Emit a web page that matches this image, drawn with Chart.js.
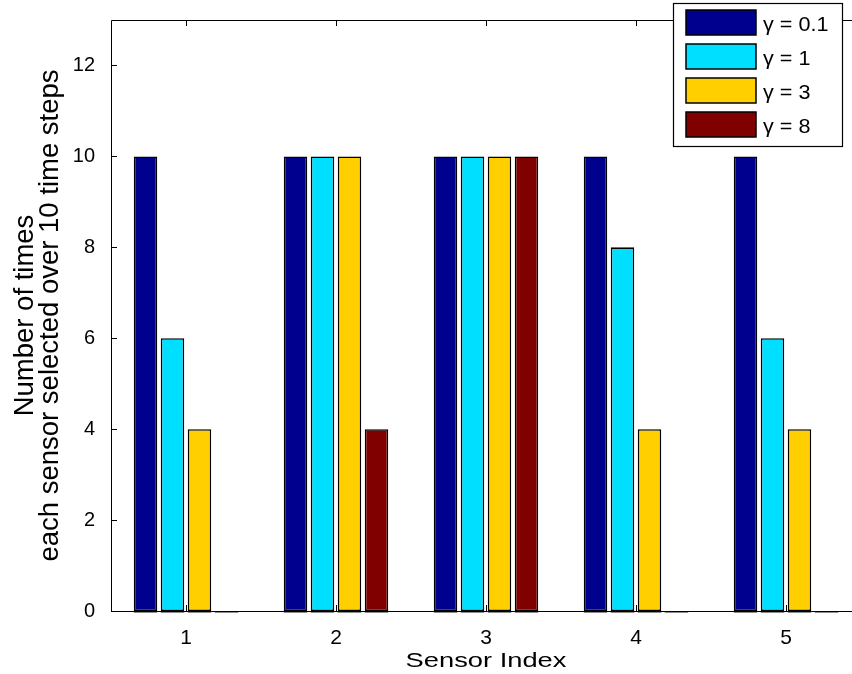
<!DOCTYPE html>
<html>
<head>
<meta charset="utf-8">
<script src="https://cdn.jsdelivr.net/npm/chart.js@4.4.0/dist/chart.umd.min.js"></script>
<style>
  html, body { margin: 0; padding: 0; background: #fff; overflow: hidden; }
  #wrap { width: 852px; height: 674px; overflow: hidden; }
</style>
</head>
<body>
<div id="wrap"><canvas id="myChart" width="866" height="674"></canvas></div>
<script>
// data
const sensors = ['1', '2', '3', '4', '5'];
const gammaLabels = ['\u03b3 = 0.1', '\u03b3 = 1', '\u03b3 = 3', '\u03b3 = 8'];
const gamma01 = [10, 10, 10, 10, 10];
const gamma1 = [6, 10, 10, 8, 6];
const gamma3 = [4, 10, 10, 4, 4];
const gamma8 = [0, 4, 10, 0, 0];
const yTicks = [0, 2, 4, 6, 8, 10, 12];
const xTitle = 'Sensor Index';
const yTitle = ['Number of times', 'each sensor selected over 10 time steps'];

const colors = ['#00008f', '#00dfff', '#ffcf00', '#800000'];
const FONT = '"Liberation Sans", Arial, Helvetica, sans-serif';

// matlab text comes out wider than arial, so stretch it sideways
function wideText(ctx, text, x, y, size, sx, align) {
  ctx.save();
  ctx.font = size + 'px ' + FONT;
  ctx.textAlign = align;
  ctx.textBaseline = 'alphabetic';
  ctx.translate(x, y);
  ctx.scale(sx, 1);
  ctx.fillText(text, 0, 0);
  ctx.restore();
}

// matlab style box (right side runs off the picture) + inward ticks
const framePlugin = {
  id: 'frame',
  afterDatasetsDraw(chart) {
    const {ctx, chartArea: a, scales} = chart;
    ctx.save();
    // gray base lines under every bar (matlab draws zero bars like this)
    ctx.strokeStyle = '#8c8c8c';
    ctx.lineWidth = 2;
    chart.data.datasets.forEach((ds, di) => {
      chart.getDatasetMeta(di).data.forEach(el => {
        ctx.beginPath();
        ctx.moveTo(el.x - el.width / 2, el.base + 1);
        ctx.lineTo(el.x + el.width / 2, el.base + 1);
        ctx.stroke();
      });
    });
    ctx.strokeStyle = '#000';
    ctx.lineWidth = 1;
    const L = Math.round(a.left) + 0.5, T = Math.round(a.top) + 0.5, B = Math.round(a.bottom) + 0.5;
    ctx.beginPath();
    ctx.moveTo(a.right + 2, T); ctx.lineTo(L, T); ctx.lineTo(L, B); ctx.lineTo(a.right + 2, B);
    const tl = 6;
    scales.y.ticks.forEach(t => {
      const y = Math.round(scales.y.getPixelForValue(t.value)) + 0.5;
      ctx.moveTo(a.left, y); ctx.lineTo(a.left + tl, y);
    });
    sensors.forEach((s, i) => {
      const x = Math.round(scales.x.getPixelForValue(i)) + 0.5;
      ctx.moveTo(x, a.bottom); ctx.lineTo(x, a.bottom - tl);
      ctx.moveTo(x, a.top); ctx.lineTo(x, a.top + tl);
    });
    ctx.stroke();
    ctx.fillStyle = '#000';
    wideText(ctx, xTitle, (a.left + a.right) / 2, 667, 21, 1.3, 'center');
    ctx.restore();
  }
};

// boxed legend in the top right corner
const legendBox = {
  id: 'legendBox',
  afterDraw(chart) {
    const {ctx} = chart;
    ctx.save();
    ctx.fillStyle = '#fff';
    ctx.fillRect(673, 3, 169, 143);
    ctx.strokeStyle = '#000';
    ctx.lineWidth = 1.2;
    ctx.strokeRect(673.5, 3.5, 169, 143);
    chart.data.datasets.forEach((ds, i) => {
      const y = 10 + i * 34;
      ctx.fillStyle = ds.backgroundColor;
      ctx.fillRect(686, y, 70, 25);
      ctx.lineWidth = 1.5;
      ctx.strokeStyle = '#000';
      ctx.strokeRect(686, y, 70, 25);
      ctx.fillStyle = '#000';
      wideText(ctx, ds.label, 763, y + 21, 20, 1.08, 'left');
    });
    ctx.restore();
  }
};

const series = [gamma01, gamma1, gamma3, gamma8];

const ctx = document.getElementById('myChart').getContext('2d');
const myChart = new Chart(ctx, {
  type: 'bar',
  data: {
    labels: sensors,
    datasets: series.map((vals, i) => ({
      label: gammaLabels[i],
      data: vals,
      backgroundColor: colors[i],
      borderColor: '#000',
      borderWidth: 1.6,
      borderSkipped: false,
      categoryPercentage: 0.72,
      barPercentage: 0.87
    }))
  },
  options: {
    responsive: false,
    animation: false,
    layout: { padding: { top: 17, right: 5, left: 0, bottom: 0 } },
    plugins: {
      legend: { display: false },
      tooltip: { enabled: false }
    },
    scales: {
      x: {
        grid: { display: false },
        border: { display: false },
        ticks: { color: '#000', font: { family: FONT, size: 21 }, padding: 7 },
        afterFit(scale) { scale.height = 63; }
      },
      y: {
        min: 0,
        max: 13,
        grid: { display: false },
        border: { display: false },
        ticks: { color: '#000', font: { family: FONT, size: 20 }, padding: 8 },
        afterBuildTicks(scale) { scale.ticks = yTicks.map(v => ({ value: v })); },
        title: {
          display: true,
          text: yTitle,
          color: '#000',
          font: { family: FONT, size: 27.5, lineHeight: 0.91 },
          padding: { top: 13, bottom: 0 }
        },
        afterFit(scale) { scale.width = 111; }
      }
    }
  },
  plugins: [framePlugin, legendBox]
});
</script>
</body>
</html>
